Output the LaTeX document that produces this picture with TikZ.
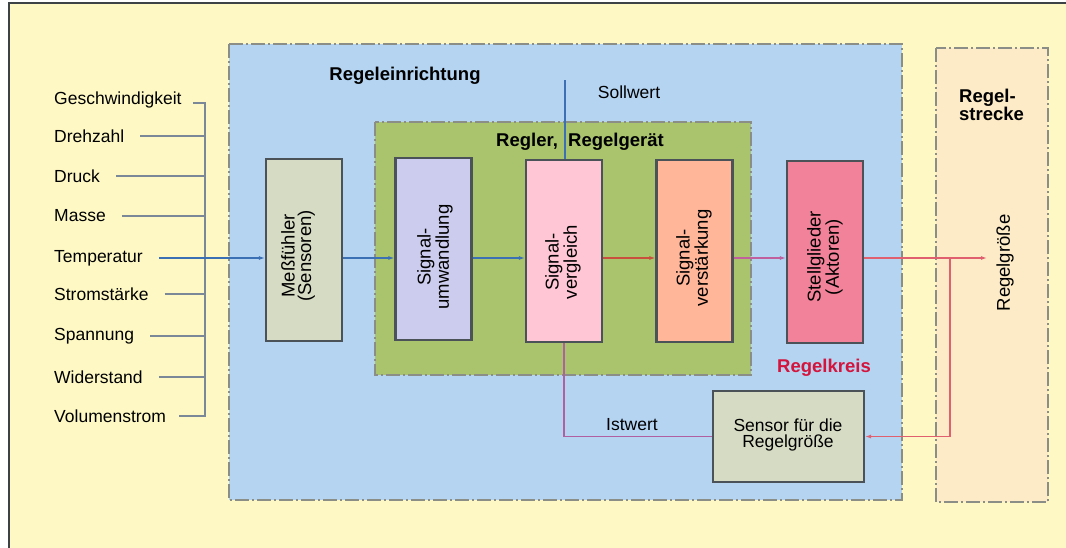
\documentclass[tikz,border=0pt]{standalone}
\usepackage{fontspec}
\setmainfont{Liberation Sans}
\usetikzlibrary{arrows.meta}
\definecolor{paper}{HTML}{FEF9C4}
\definecolor{regblue}{HTML}{B4D4F2}
\definecolor{reggreen}{HTML}{A9C46C}
\definecolor{strecke}{HTML}{FCEBC6}
\definecolor{frameline}{HTML}{8A8E86}
\definecolor{boxline}{HTML}{4C5358}
\definecolor{sensorfill}{HTML}{D6DBC4}
\definecolor{lavender}{HTML}{CCCDEE}
\definecolor{pinkfill}{HTML}{FFC6D6}
\definecolor{salmon}{HTML}{FFB699}
\definecolor{rosered}{HTML}{F2829A}
\definecolor{kreisred}{HTML}{D4143C}
\definecolor{sigblue}{HTML}{3C70B4}
\definecolor{sigred}{HTML}{C8503C}
\definecolor{sigpink}{HTML}{E06070}
\definecolor{sigviolet}{HTML}{C0609C}
\definecolor{feedline}{HTML}{B060A0}
\definecolor{inline}{HTML}{7A8898}
\tikzset{
  txt/.style={font=\fontsize{17.5}{16.5}\selectfont, inner sep=0pt},
  btxt/.style={font=\fontsize{18.5}{16.5}\selectfont\bfseries, inner sep=0pt},
  rtxt/.style={font=\fontsize{18.5}{16.5}\selectfont, inner sep=0pt, rotate=90, align=center},
  unit/.style={draw=boxline, line width=2.2pt, minimum width=76pt, minimum height=182pt, inner sep=0pt},
  frame/.style={draw=frameline, line width=1.3pt, dash pattern=on 14pt off 3pt on 2pt off 3pt},
  sig/.style={line width=1.4pt},
  tip/.style={-{Latex[length=6pt,width=4pt]}},
  feeler/.style={draw=inline, line width=1.5pt}
}
\begin{document}
\begin{tikzpicture}[x=1pt,y=-1pt]
\useasboundingbox (0,0) rectangle (1066,548);
% paper and its edge
\fill[white] (0,0) rectangle (1066,548);
\fill[paper] (9,3) rectangle (1066,548);
\draw[boxline!80!black, line width=1.2pt] (9,548) -- (9,3) -- (1066,3);

% containers
\path[frame, fill=regblue] (229,44) rectangle (902,500);
\path[frame, fill=strecke] (936,48) rectangle (1048,502);
\path[frame, fill=reggreen] (375,122) rectangle (751,375);

\node[btxt] (einr) at (405,76) {Regeleinrichtung};
\node[btxt] (regler) at (580,142) {Regler,\ \ Regelgerät};
\node[btxt, align=left, anchor=west] (strk) at (959,105) {Regel-\\strecke};
\node[txt] (soll) at (629,92) {Sollwert};
\node[txt] (ist) at (632,425) {Istwert};
\node[btxt, text=kreisred] (kreis) at (824,368) {Regelkreis};

% functional units
\node[unit, fill=sensorfill] (mf) at (304,250) {};
\node[unit, fill=lavender] (su) at (433.5,249) {};
\node[unit, fill=pinkfill] (sv) at (564,251) {};
\node[unit, fill=salmon] (sk) at (694.5,251) {};
\node[unit, fill=rosered] (sg) at (825,252) {};
\node[unit, fill=sensorfill, minimum width=151pt, minimum height=91pt] (sen) at (788.5,436.5) {};

\node[rtxt] (mft) at (298,256) {Meßfühler\\(Sensoren)};
\node[rtxt] (sut) at (435,257) {Signal-\\umwandlung};
\node[rtxt] (svt) at (563,262) {Signal-\\vergleich};
\node[rtxt] (skt) at (694,258) {Signal-\\verstärkung};
\node[rtxt] (sgt) at (825,257) {Stellglieder\\(Aktoren)};
\node[txt, align=center] (sent) at (788,435) {Sensor für die\\Regelgröße};
\node[rtxt] (grt) at (1005,263) {Regelgröße};

% measured quantities
\coordinate (rail) at (205,0);
\foreach \nm/\lab/\yy in {q1/Geschwindigkeit/100, q2/Drehzahl/136, q3/Druck/176, q4/Masse/216,
    q5/Temperatur/258, q6/Stromstärke/294, q7/Spannung/336, q8/Widerstand/377, q9/Volumenstrom/416}
  \node[txt, anchor=west] (\nm) at (54,\yy) {\lab};
\draw[feeler] ([xshift=11pt,yshift=-3pt]q1.east) -- ([yshift=-3pt]q1.east -| rail) -- (q9.east -| rail) -- ([xshift=13pt]q9.east);
\foreach \nm in {q2,q3,q4,q6,q7,q8}
  \draw[feeler] ([xshift=16pt]\nm.east) -- (\nm.east -| rail);

% signal path
\coordinate (lvl) at (0,258);
\draw[sig, draw=sigblue, tip] ([xshift=16pt]q5.east) -- (q5.east -| mf.west);
\draw[sig, draw=sigblue, tip] (mf.east |- lvl) -- (su.west |- lvl);
\draw[sig, draw=sigblue, tip] (su.east |- lvl) -- (sv.west |- lvl);
\draw[sig, draw=sigred, tip] (sv.east |- lvl) -- (sk.west |- lvl);
\draw[sig, draw=sigviolet, tip] (sk.east |- lvl) -- (sg.west |- lvl);
\coordinate (out) at (987,258);
\coordinate (branch) at (950,258);
\draw[sig, draw=sigpink, tip] (sg.east |- lvl) -- (out);
\draw[sig, draw=sigpink, tip] (branch) -- (branch |- sen.east) -- (sen.east);

% set point and feedback
\coordinate (sollin) at (565,80);
\draw[sig, draw=sigblue] (sollin) -- (sollin |- sv.north);
\draw[sig, draw=feedline] (sv.south) -- (sv.south |- sen.west) -- (sen.west);
\end{tikzpicture}
\end{document}
